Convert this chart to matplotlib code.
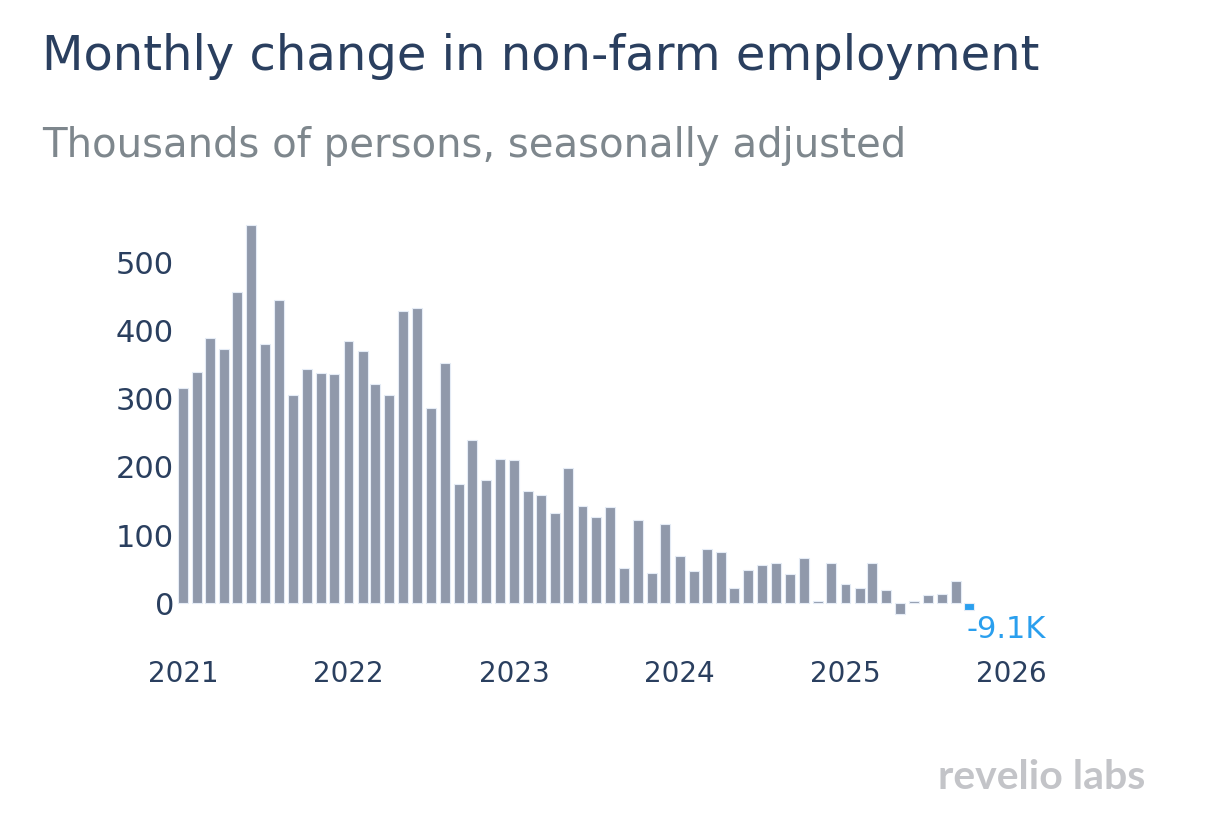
import matplotlib
matplotlib.use("Agg")
import matplotlib.pyplot as plt
import matplotlib.dates as mdates
import pandas as pd

W, H, DPI = 1228, 826, 100

# Monthly change in non-farm payrolls (thousands), Jan 2021 .. Oct 2025
start_month = "2021-01-01"
changes = [
    316, 339, 389, 373, 457, 554, 380, 445, 305, 343, 338, 336,   # 2021
    385, 370, 322, 306, 428, 433, 286, 353, 175, 239, 181, 212,   # 2022
    210, 164, 159, 132, 198, 142, 126, 141, 52, 122, 45, 117,     # 2023
    70, 48, 80, 75, 22, 49, 56, 59, 43, 67, 4, 59,                # 2024
    28, 22, 59, 20, -16, 4, 12, 14, 33, -9.1,                     # 2025
]
year_ticks = [2021, 2022, 2023, 2024, 2025, 2026]
y_ticks = [0, 100, 200, 300, 400, 500]
last_label = "-9.1K"

title = "Monthly change in non-farm employment"
subtitle = "Thousands of persons, seasonally adjusted"

bar_color = "#9099AB"
last_color = "#2A9FEE"
navy = "#2A3F5F"
grey = "#7E878D"

plt.rcParams["font.family"] = ["DejaVu Sans"]


def px_box(left, top, right, bottom):
    """Axes rectangle from pixel edges (origin top-left)."""
    return [left / W, 1 - bottom / H, (right - left) / W, (bottom - top) / H]


fig = plt.figure(figsize=(W / DPI, H / DPI), dpi=DPI)
fig.patch.set_facecolor("white")

ax_left, ax_top, ax_right, ax_bottom = 176, 215, 1040, 645
ax = fig.add_axes(px_box(ax_left, ax_top, ax_right, ax_bottom))

months = pd.date_range(start_month, periods=len(changes), freq="MS")
colors = [bar_color] * (len(changes) - 1) + [last_color]
ax.bar(months, changes, width=22, color=colors, edgecolor="#E5ECF6", linewidth=0.8)

# x scale: 2021 tick at px 183, 2026 tick at px 1011
t0 = mdates.date2num(pd.Timestamp("2021-01-01"))
t1 = mdates.date2num(pd.Timestamp("2026-01-01"))
px_per_day = (1011 - 183) / (t1 - t0)
ax.set_xlim(t0 - (183 - ax_left) / px_per_day, t1 + (ax_right - 1011) / px_per_day)

# y scale: zero at px 603.3, 0.682 px per thousand
zero_px, px_per_unit = 603.3, 0.682
ax.set_ylim(-(ax_bottom - zero_px) / px_per_unit, (zero_px - ax_top) / px_per_unit)

ax.set_yticks(y_ticks)
ax.set_yticklabels([str(v) for v in y_ticks])
ax.set_xticks([pd.Timestamp(f"{y}-01-01") for y in year_ticks])
ax.set_xticklabels([str(y) for y in year_ticks])
ax.tick_params(axis="y", length=0, pad=1.5, labelsize=22, labelcolor=navy)
ax.tick_params(axis="x", length=0, pad=11, labelsize=20, labelcolor=navy)
for s in ax.spines.values():
    s.set_visible(False)
ax.set_facecolor("white")

ax.annotate(last_label, xy=(months[-1], changes[-1]), xytext=(-2, -4),
            textcoords="offset points", ha="left", va="top",
            color=last_color, fontsize=22, annotation_clip=False)

fig.text(42 / W, 1 - 70 / H, title, fontsize=34.6, color=navy, va="baseline")
fig.text(42 / W, 1 - 157 / H, subtitle, fontsize=29, color=grey, va="baseline")
fig.text(1145 / W, 1 - 789 / H, "revelio labs", ha="right", va="baseline",
         fontsize=29.5, fontweight="bold", color="#C3C4C8", family=["Lato", "DejaVu Sans"])

fig.savefig("out.png", dpi=DPI)
